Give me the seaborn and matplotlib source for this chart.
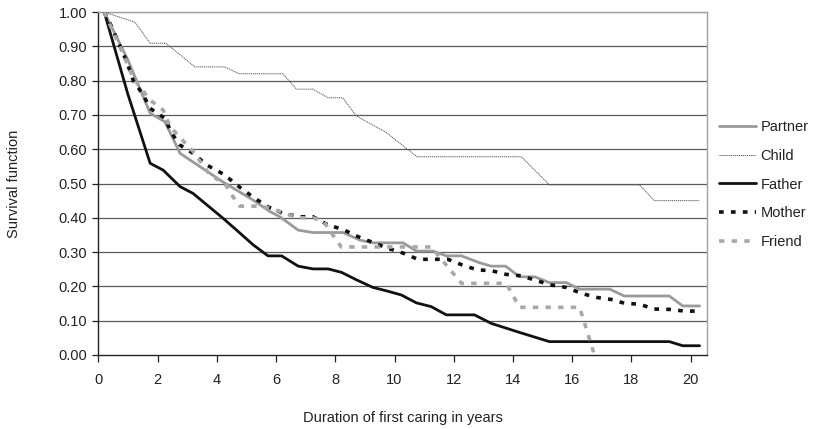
import matplotlib
matplotlib.use('Agg')
import matplotlib.pyplot as plt
import numpy as np
import pandas as pd
import seaborn as sns

# survival curves (years, survival)
partner_x = [0.2, 1.0, 1.75, 2.25, 2.76, 4.2, 5.22, 5.8, 6.13, 6.75, 7.25, 8.26, 8.83, 9.27, 10.29,
             10.74, 11.3, 11.75, 12.26, 12.87, 13.27, 13.75, 14.22, 14.73, 15.23, 15.8, 16.25,
             17.26, 17.76, 19.28, 19.73, 20.3]
partner_y = [1.0, 0.86, 0.705, 0.68, 0.588, 0.505, 0.452, 0.418, 0.403, 0.364, 0.357, 0.357, 0.335,
             0.327, 0.327, 0.303, 0.303, 0.289, 0.289, 0.269, 0.259, 0.259, 0.228, 0.228, 0.211,
             0.211, 0.192, 0.192, 0.172, 0.172, 0.143, 0.143]

child_x = [0.2, 1.24, 1.75, 2.28, 3.26, 4.27, 4.75, 6.23, 6.69, 7.25, 7.75, 8.25, 8.71, 9.7,
           10.76, 14.28, 15.23, 18.27, 18.77, 20.3]
child_y = [1.0, 0.97, 0.909, 0.909, 0.84, 0.84, 0.82, 0.82, 0.775, 0.775, 0.75, 0.75, 0.697, 0.65,
           0.578, 0.578, 0.496, 0.496, 0.45, 0.45]

father_x = [0.2, 1.0, 1.75, 2.19, 2.76, 3.2, 4.22, 4.67, 5.23, 5.73, 6.19, 6.75, 7.25, 7.76, 8.21,
            8.72, 9.27, 9.73, 10.23, 10.74, 11.24, 11.75, 12.7, 13.27, 14.25, 15.23, 19.28, 19.73,
            20.3]
father_y = [1.0, 0.76, 0.559, 0.539, 0.491, 0.471, 0.398, 0.364, 0.321, 0.289, 0.289, 0.259, 0.251,
            0.251, 0.241, 0.219, 0.197, 0.187, 0.175, 0.152, 0.141, 0.117, 0.117, 0.092, 0.065,
            0.039, 0.039, 0.027, 0.027]

mother_x = [0.2, 0.45, 0.96, 1.18, 1.52, 1.75, 2.25, 2.48, 2.76, 3.2, 3.66, 4.27, 4.67, 5.23, 5.73,
            6.24, 6.8, 7.25, 7.76, 8.26, 8.77, 9.33, 9.78, 10.29, 10.79, 11.8, 12.3, 12.8, 13.27,
            13.77, 14.28, 14.79, 15.29, 15.8, 16.3, 16.81, 17.31, 17.76, 18.27, 18.77, 19.28,
            19.79, 20.3]
mother_y = [1.0, 0.957, 0.855, 0.80, 0.758, 0.719, 0.69, 0.646, 0.612, 0.588, 0.554, 0.525, 0.496,
            0.46, 0.432, 0.413, 0.403, 0.403, 0.379, 0.366, 0.345, 0.326, 0.311, 0.297, 0.279,
            0.279, 0.262, 0.248, 0.246, 0.235, 0.231, 0.217, 0.204, 0.197, 0.18, 0.168, 0.162,
            0.151, 0.148, 0.134, 0.133, 0.128, 0.128]

friend_x = [0.2, 0.73, 1.18, 1.75, 2.19, 2.42, 3.2, 3.77, 4.27, 4.55, 4.78, 5.28, 5.73, 6.75,
            7.25, 7.6, 8.2, 11.24, 12.26, 13.77, 14.22, 16.25, 16.75]
friend_y = [1.0, 0.899, 0.807, 0.743, 0.714, 0.666, 0.593, 0.525, 0.50, 0.461, 0.434, 0.434, 0.43,
            0.40, 0.40, 0.39, 0.315, 0.315, 0.209, 0.209, 0.139, 0.139, 0.0]

x_ticks = list(range(0, 21, 2))
y_ticks = [round(v * 0.1, 1) for v in range(11)]

sns.set_style('white')
plt.rcParams['font.family'] = ['Liberation Sans', 'DejaVu Sans']
plt.rcParams['text.color'] = '#222222'
plt.rcParams['axes.labelcolor'] = '#222222'

fig = plt.figure(figsize=(8.27, 4.29), dpi=100)
ax = fig.add_axes([98.3 / 827, 1 - 355 / 429, (707 - 98.3) / 827, 343 / 429])

# gridlines first so the curves sit on top
for v in y_ticks[1:]:
    ax.axhline(v, color='#5a5a5a' if v < 0.95 else '#9a9a9a', lw=0.9, zorder=1)

series = [
    ('Partner', partner_x, partner_y, dict(color='#9a9a9a', lw=2.0, linestyle='-')),
    ('Child', child_x, child_y, dict(color='#555555', lw=0.7, linestyle=(0, (1.2, 0.8)))),
    ('Father', father_x, father_y, dict(color='#111111', lw=2.0, linestyle='-')),
    ('Mother', mother_x, mother_y, dict(color='#111111', lw=2.6, linestyle=(0, (1.3, 2.0)))),
    ('Friend', friend_x, friend_y, dict(color='#a8a8a8', lw=2.6, linestyle=(0, (1.5, 2.0)))),
]

for name, xs, ys, style in series:
    sns.lineplot(x=xs, y=ys, ax=ax, label=name, sort=False, estimator=None, zorder=3, **style)

ax.set_xlim(0, 20.55)
ax.set_ylim(0, 1.0)
ax.set_xticks(x_ticks)
ax.set_yticks(y_ticks)
ax.set_yticklabels([f'{v:.2f}' for v in y_ticks])
ax.tick_params(axis='x', direction='out', length=5, width=0.9, color='#222222',
               labelcolor='#222222', labelsize=10.5, pad=8)
ax.tick_params(axis='y', direction='out', length=4, width=0.9, color='#222222',
               labelcolor='#222222', labelsize=10.5, pad=4)
ax.tick_params(bottom=True, left=True)

for side in ['left', 'bottom']:
    ax.spines[side].set_color('#222222')
    ax.spines[side].set_linewidth(1.0)
for side in ['right', 'top']:
    ax.spines[side].set_color('#a0a0a0')
    ax.spines[side].set_linewidth(1.0)

ax.set_xlabel('Duration of first caring in years', fontsize=10.5, labelpad=17)
ax.set_ylabel('Survival function', fontsize=10.5, labelpad=27)

ax.legend(loc='center left', bbox_to_anchor=(1.02, 0.497), frameon=False, fontsize=10.5,
          handlelength=2.5, handletextpad=0.35, labelspacing=1.0, borderpad=0, borderaxespad=0)

fig.savefig('out.png', dpi=100)
